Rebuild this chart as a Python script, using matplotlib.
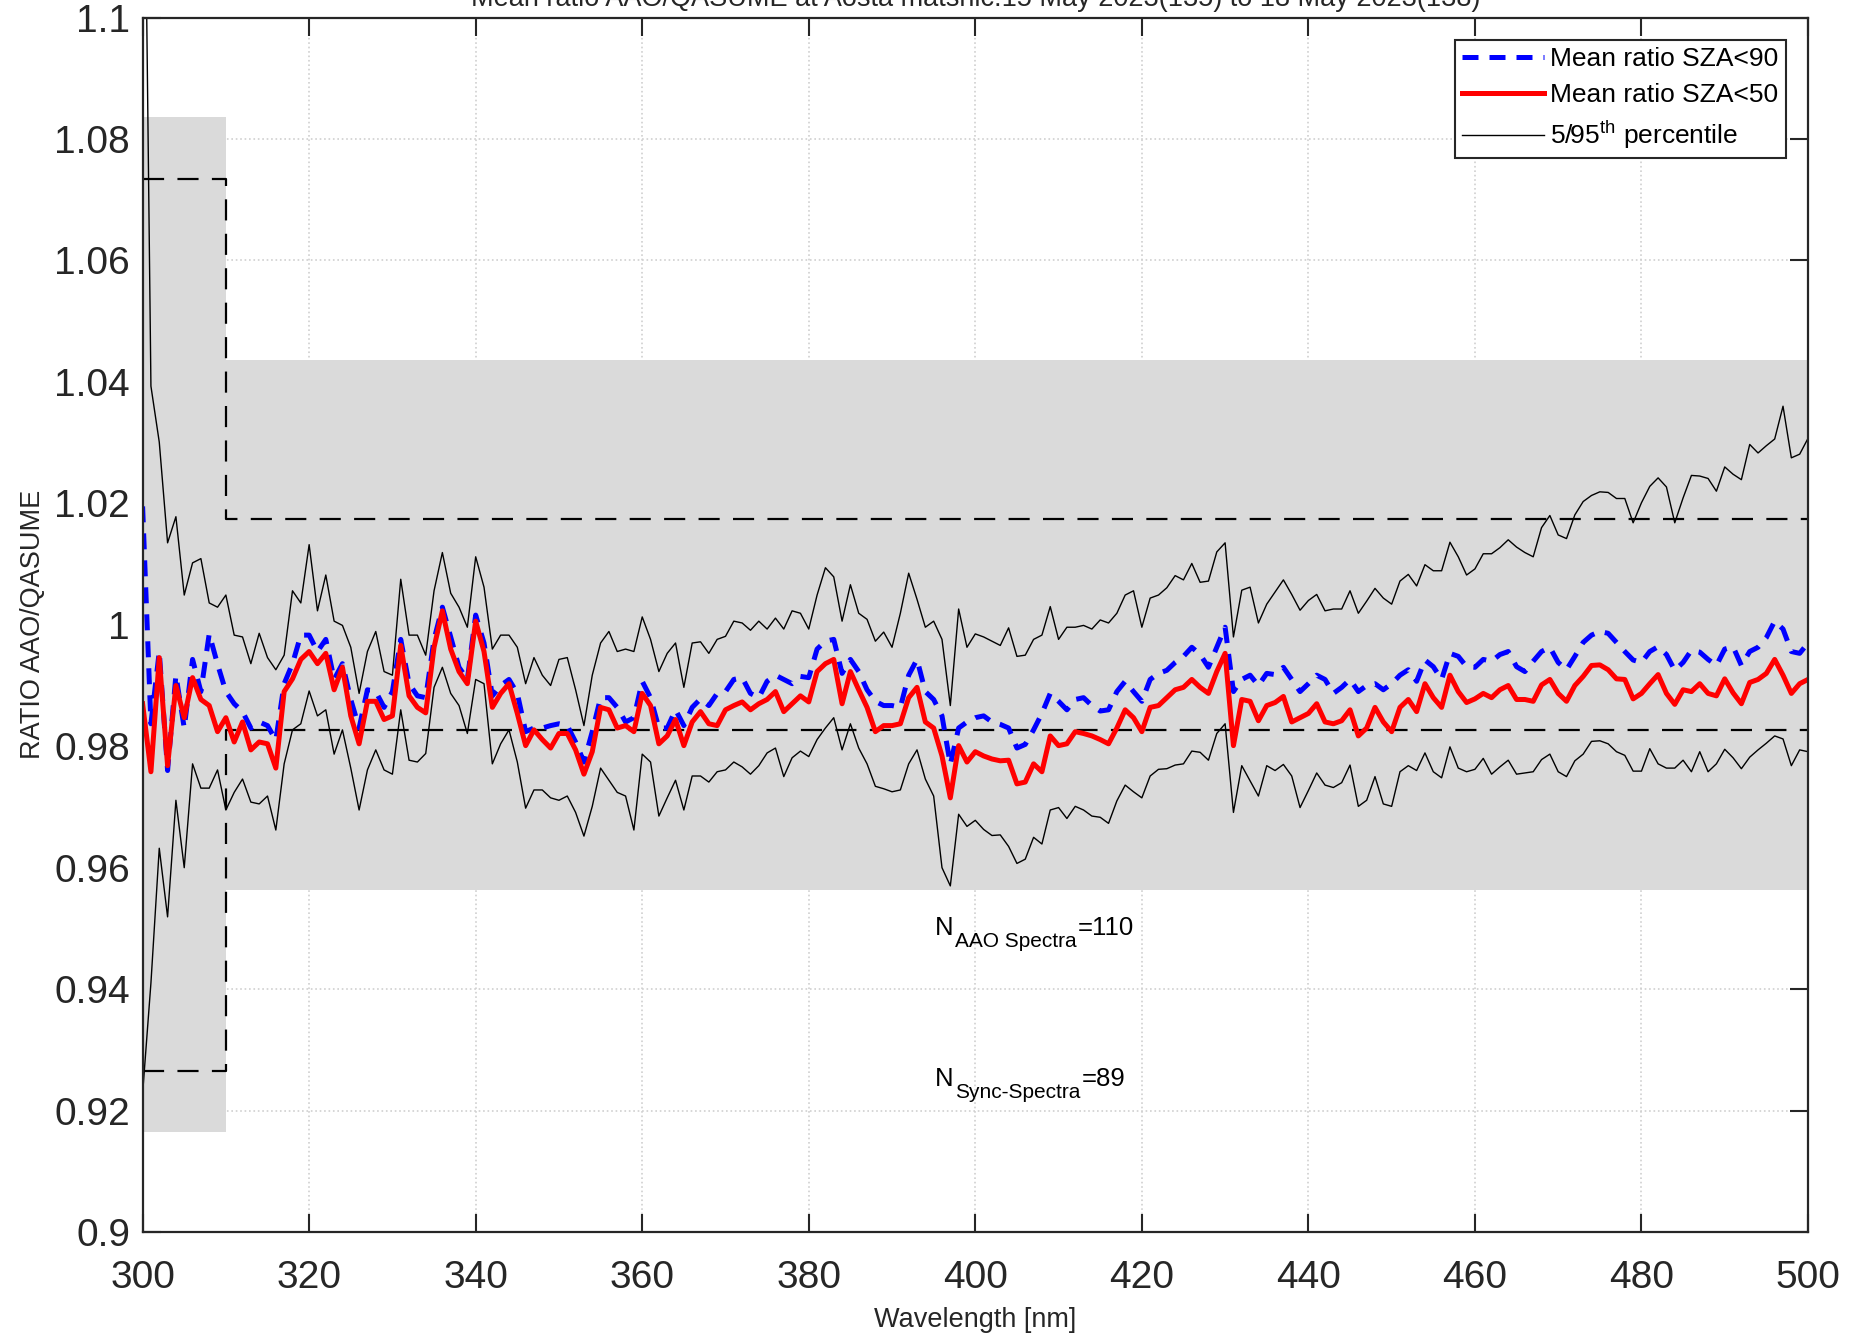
import numpy as np
import matplotlib
matplotlib.use("Agg")
import matplotlib.pyplot as plt
from matplotlib.transforms import offset_copy

plt.rcParams["font.family"] = ["Liberation Sans", "DejaVu Sans"]
plt.rcParams["mathtext.fontset"] = "custom"
plt.rcParams["mathtext.rm"] = "Liberation Sans"
plt.rcParams["mathtext.it"] = "Liberation Sans:italic"

# wavelength grid (1 nm steps, 300..500)
wavelength = np.arange(300, 501)

mean_sza50 = [
    0.987, 0.9758, 0.9946, 0.9768, 0.990, 0.9847, 0.9913, 0.9877, 0.9867, 0.9824,
    0.9847, 0.9807, 0.984, 0.9794, 0.9807, 0.9804, 0.9764, 0.989, 0.9911, 0.9943,
    0.9956, 0.9936, 0.9953, 0.9893, 0.993, 0.985, 0.9804, 0.9874, 0.9874, 0.9844,
    0.985, 0.9966, 0.9883, 0.9864, 0.9855, 0.9963, 1.0023, 0.996, 0.9923, 0.9903,
    1.0006, 0.9956, 0.9864, 0.9887, 0.9903, 0.9854, 0.9801, 0.9827, 0.9811, 0.9797,
    0.9821, 0.9821, 0.9794, 0.9754, 0.9791, 0.9864, 0.986, 0.983, 0.9834, 0.9824,
    0.9887, 0.9867, 0.9804, 0.9817, 0.9844, 0.9801, 0.984, 0.9857, 0.9837, 0.9834,
    0.986, 0.9867, 0.9873, 0.986, 0.987, 0.9877, 0.989, 0.9857, 0.987, 0.9883,
    0.9873, 0.9923, 0.9936, 0.9943, 0.987, 0.9923, 0.9893, 0.9864, 0.9824, 0.9834,
    0.9834, 0.9837, 0.988, 0.9897, 0.984, 0.983, 0.9784, 0.9715, 0.9801, 0.9774,
    0.9791, 0.9784, 0.9779, 0.9776, 0.9777, 0.9738, 0.9741, 0.9771, 0.9758, 0.9817,
    0.9801, 0.9804, 0.9824, 0.9821, 0.9817, 0.9811, 0.9804, 0.983, 0.986, 0.9847,
    0.9824, 0.9864, 0.9867, 0.988, 0.9893, 0.9897, 0.991, 0.9897, 0.9887, 0.9923,
    0.9953, 0.9801, 0.9877, 0.9874, 0.9842, 0.9867, 0.9872, 0.9882, 0.984, 0.9847,
    0.9854, 0.987, 0.984, 0.9837, 0.9842, 0.986, 0.9817, 0.983, 0.9864, 0.984,
    0.9824, 0.9864, 0.9877, 0.9857, 0.9903, 0.988, 0.9864, 0.9917, 0.989, 0.9872,
    0.9878, 0.9887, 0.988, 0.9893, 0.990, 0.9877, 0.9877, 0.9874, 0.9901, 0.991,
    0.9887, 0.9874, 0.990, 0.9915, 0.9933, 0.9934, 0.9926, 0.9911, 0.991, 0.9878,
    0.9887, 0.9903, 0.9918, 0.9887, 0.9869, 0.9893, 0.989, 0.9903, 0.9887, 0.9883,
    0.9911, 0.9888, 0.987, 0.9905, 0.991, 0.992, 0.9943, 0.9917, 0.9887, 0.9903,
    0.991,
]

mean_sza90 = [
    1.0195, 0.9837, 0.9956, 0.976, 0.9917, 0.983, 0.9943, 0.989, 0.9985, 0.9935,
    0.989, 0.987, 0.9857, 0.983, 0.984, 0.9834, 0.981, 0.9903, 0.9936, 0.9983,
    0.9983, 0.9956, 0.9976, 0.991, 0.9936, 0.9877, 0.983, 0.9893, 0.989, 0.9864,
    0.989, 0.9976, 0.9903, 0.9883, 0.988, 0.9976, 1.0029, 0.998, 0.993, 0.991,
    1.0016, 0.997, 0.9883, 0.990, 0.991, 0.9887, 0.9824, 0.983, 0.983, 0.9834,
    0.9837, 0.9834, 0.9807, 0.9774, 0.9824, 0.988, 0.988, 0.9864, 0.984, 0.9847,
    0.9907, 0.988, 0.983, 0.983, 0.986, 0.9834, 0.9864, 0.9878, 0.9867, 0.9887,
    0.989, 0.991, 0.9913, 0.9887, 0.988, 0.9907, 0.9917, 0.991, 0.9903, 0.9915,
    0.9913, 0.996, 0.9973, 0.9976, 0.992, 0.9943, 0.9923, 0.9893, 0.9874, 0.9867,
    0.9867, 0.9864, 0.9917, 0.9943, 0.989, 0.9877, 0.985, 0.977, 0.983, 0.984,
    0.9847, 0.985, 0.984, 0.9836, 0.983, 0.9797, 0.9803, 0.9827, 0.9854, 0.9887,
    0.9874, 0.986, 0.9877, 0.988, 0.9867, 0.9858, 0.986, 0.989, 0.9907, 0.989,
    0.9874, 0.991, 0.992, 0.9925, 0.9938, 0.9948, 0.9963, 0.9951, 0.993, 0.9963,
    0.9996, 0.989, 0.991, 0.9917, 0.990, 0.992, 0.9918, 0.993, 0.991, 0.989,
    0.9903, 0.9917, 0.991, 0.9887, 0.9897, 0.991, 0.989, 0.990, 0.9903, 0.9893,
    0.9903, 0.9917, 0.9926, 0.9907, 0.9942, 0.9931, 0.991, 0.9953, 0.9948, 0.9931,
    0.993, 0.9943, 0.994, 0.9951, 0.9956, 0.9931, 0.9923, 0.994, 0.9956, 0.9963,
    0.9938, 0.9926, 0.9948, 0.9971, 0.9983, 0.9989, 0.9986, 0.9971, 0.9956, 0.9942,
    0.9938, 0.9956, 0.9964, 0.9951, 0.9925, 0.9938, 0.9958, 0.9955, 0.9943, 0.9933,
    0.996, 0.9964, 0.9933, 0.9956, 0.9963, 0.9979, 1.0006, 0.9993, 0.9956, 0.9953,
    0.997,
]

p95 = [
    1.16, 1.0393, 1.0301, 1.0135, 1.0178, 1.0049, 1.0102, 1.0109, 1.0036, 1.0029,
    1.0049, 0.9983, 0.998, 0.9936, 0.9986, 0.9946, 0.9926, 0.995, 1.0056, 1.0036,
    1.0132, 1.0023, 1.0082, 1.0006, 0.9999, 0.9963, 0.9887, 0.9956, 0.9989, 0.9923,
    0.9917, 1.0075, 0.9983, 0.9983, 0.995, 1.0056, 1.0119, 1.0052, 1.0029, 0.9996,
    1.0112, 1.0062, 0.996, 0.9983, 0.9983, 0.9963, 0.9903, 0.9946, 0.9917, 0.990,
    0.9943, 0.9946, 0.9893, 0.9834, 0.9917, 0.997, 0.9989, 0.9956, 0.996, 0.9956,
    1.0013, 0.9976, 0.9923, 0.9953, 0.997, 0.9897, 0.997, 0.9972, 0.9953, 0.9976,
    0.9981, 1.0006, 1.0003, 0.9991, 1.0006, 0.9993, 1.0011, 0.9993, 1.0023, 1.0019,
    0.9993, 1.0049, 1.0094, 1.0079, 1.0006, 1.0066, 1.0019, 1.0009, 0.9973, 0.9988,
    0.9963, 1.0019, 1.0085, 1.0042, 0.9996, 1.0006, 0.9976, 0.9867, 1.0026, 0.9963,
    0.9985, 0.998, 0.9973, 0.9966, 0.9995, 0.9948, 0.995, 0.9976, 0.9983, 1.003,
    0.9976, 0.9996, 0.9996, 0.9999, 0.9993, 1.0008, 1.0003, 1.0019, 1.0049, 1.0056,
    0.9996, 1.0044, 1.0049, 1.0061, 1.0081, 1.0074, 1.0101, 1.007, 1.0072, 1.012,
    1.0135, 0.998, 1.0057, 1.0062, 1.0003, 1.0034, 1.0054, 1.0074, 1.005, 1.0024,
    1.004, 1.005, 1.0023, 1.0026, 1.0026, 1.0056, 1.0019, 1.0039, 1.006, 1.0044,
    1.0034, 1.0072, 1.0083, 1.0064, 1.0099, 1.0089, 1.0089, 1.0136, 1.0112, 1.0082,
    1.0092, 1.0117, 1.0117, 1.0127, 1.014, 1.0128, 1.0119, 1.0112, 1.016, 1.018,
    1.0148, 1.0142, 1.0181, 1.0203, 1.0213, 1.0219, 1.0218, 1.0208, 1.0208, 1.0168,
    1.0201, 1.0228, 1.0242, 1.0227, 1.0168, 1.0209, 1.0246, 1.0245, 1.0241, 1.022,
    1.026, 1.0248, 1.0239, 1.0297, 1.0283, 1.0295, 1.0306, 1.036, 1.0275, 1.0281,
    1.0307,
]

p05 = [
    0.9228, 0.941, 0.9632, 0.9519, 0.9711, 0.960, 0.9771, 0.9731, 0.9731, 0.9761,
    0.9695, 0.9724, 0.9746, 0.9708, 0.9705, 0.9718, 0.9662, 0.9771, 0.9827, 0.9837,
    0.9891, 0.985, 0.986, 0.9787, 0.9827, 0.9764, 0.9695, 0.9761, 0.9794, 0.9761,
    0.9754, 0.986, 0.9777, 0.9774, 0.9788, 0.9897, 0.993, 0.9887, 0.9867, 0.9821,
    0.991, 0.9903, 0.9771, 0.9804, 0.9827, 0.9774, 0.9698, 0.9728, 0.9728, 0.9715,
    0.9711, 0.9718, 0.9691, 0.9652, 0.9701, 0.9764, 0.9744, 0.9724, 0.9718, 0.9662,
    0.9787, 0.9774, 0.9685, 0.9715, 0.9744, 0.9695, 0.9751, 0.9751, 0.9741, 0.9758,
    0.9761, 0.9774, 0.9766, 0.9754, 0.9768, 0.9789, 0.9797, 0.975, 0.9781, 0.9792,
    0.9783, 0.9811, 0.983, 0.9847, 0.9794, 0.9837, 0.9797, 0.9771, 0.9734, 0.973,
    0.9725, 0.9728, 0.9771, 0.9794, 0.9746, 0.9718, 0.960, 0.957, 0.9688, 0.9668,
    0.9678, 0.9663, 0.9653, 0.9654, 0.9635, 0.9607, 0.9614, 0.965, 0.9639, 0.9695,
    0.9699, 0.9681, 0.9701, 0.9695, 0.9685, 0.9683, 0.9673, 0.971, 0.9736, 0.9725,
    0.9715, 0.9751, 0.9762, 0.9763, 0.9769, 0.9771, 0.9792, 0.979, 0.9777, 0.9821,
    0.9837, 0.9691, 0.9768, 0.9743, 0.9718, 0.9768, 0.976, 0.977, 0.9751, 0.9699,
    0.9727, 0.9756, 0.9736, 0.9732, 0.974, 0.9769, 0.9701, 0.9711, 0.975, 0.9705,
    0.9701, 0.9758, 0.9768, 0.976, 0.9789, 0.9758, 0.9748, 0.9799, 0.9764, 0.9758,
    0.9762, 0.978, 0.9754, 0.9766, 0.9777, 0.9754, 0.9756, 0.9758, 0.9778, 0.9787,
    0.9758, 0.975, 0.9776, 0.9787, 0.9808, 0.9809, 0.9804, 0.9791, 0.9785, 0.9759,
    0.9759, 0.9796, 0.9771, 0.9764, 0.9764, 0.9777, 0.9758, 0.9791, 0.9758, 0.9771,
    0.9795, 0.9781, 0.9763, 0.9782, 0.9794, 0.9805, 0.9817, 0.9812, 0.9768, 0.9794,
    0.9791,
]

# acceptance bands around 1 (300-310 nm and 310-500 nm)
band_edges = [300, 310, 500]
band_outer = [0.0836, 0.0436]   # half width of grey bands
band_inner = [0.0735, 0.0174]   # half width of dashed limits

n_aao = 110
n_sync = 89
title = "Mean ratio AAO/QASUME at Aosta matshic:15 May 2023(135) to 18 May 2023(138)"

W, H = 1863, 1339
fig = plt.figure(figsize=(W / 100, H / 100), dpi=100)
ax = fig.add_axes([142.6 / W, 1 - 1232 / H, (1808 - 142.6) / W, (1232 - 17.6) / H])

grey = "#dadada"
for k in range(2):
    ax.fill_between([band_edges[k], band_edges[k + 1]],
                    1 - band_outer[k], 1 + band_outer[k],
                    color=grey, lw=0, zorder=1)

# dashed limits (step shape)
xs = [band_edges[0], band_edges[1], band_edges[1], band_edges[2]]
for sgn in (1, -1):
    ys = [1 + sgn * band_inner[0], 1 + sgn * band_inner[0],
          1 + sgn * band_inner[1], 1 + sgn * band_inner[1]]
    ax.plot(xs, ys, color="black", lw=1.6, dashes=(9.5, 6), zorder=2)

ax.plot(wavelength, p95, color="black", lw=1.0, zorder=3,
        label=r"5/95$^{\mathrm{th}}$ percentile")
ax.plot(wavelength, p05, color="black", lw=1.0, zorder=3)
ax.plot(wavelength, mean_sza90, color="blue", lw=3.6, dashes=(3.2, 2.2),
        zorder=4, label="Mean ratio SZA<90")
ax.plot(wavelength, mean_sza50, color="red", lw=3.6, zorder=5,
        label="Mean ratio SZA<50")

ax.set_xlim(300, 500)
ax.set_ylim(0.9, 1.1)
ax.set_xticks(np.arange(300, 501, 20))
ax.set_yticks(np.arange(0.9, 1.1001, 0.02))
ax.set_yticklabels(["0.9", "0.92", "0.94", "0.96", "0.98", "1",
                    "1.02", "1.04", "1.06", "1.08", "1.1"])
ax.tick_params(direction="in", length=13, width=1.5, top=True, right=True,
               labelsize=28, colors="#262626")
ax.tick_params(axis="y", pad=9)
ax.tick_params(axis="x", pad=20)
for s in ax.spines.values():
    s.set_linewidth(1.6)
    s.set_color("#262626")
    s.set_zorder(7)
ax.grid(True, linestyle=":", color="#d0d0d0", lw=1.2)
ax.set_axisbelow(True)

ax.set_xlabel("Wavelength [nm]", fontsize=19.5, color="#262626")
ax.set_ylabel("RATIO AAO/QASUME", fontsize=19.5, color="#262626")
ax.xaxis.set_label_coords(0.5, -0.0725)
ax.yaxis.set_label_coords(-0.0658, 0.5)
ax.xaxis.label.set_va("center")
ax.yaxis.label.set_va("center")

h, l = ax.get_legend_handles_labels()
order = [1, 2, 0]
leg = ax.legend([h[i] for i in order], [l[i] for i in order],
                loc="upper right", bbox_to_anchor=(1 - 22 / 1665.4, 1 - 22 / 1214.4),
                borderaxespad=0, fontsize=19, fancybox=False, framealpha=1,
                edgecolor="#262626", handlelength=3.1, labelspacing=0.45,
                handletextpad=0.25, borderpad=0.28)
leg.get_frame().set_linewidth(1.5)
leg.set_zorder(8)

fig.text(ax.get_position().x0 + ax.get_position().width / 2, 1 - 6 / H, title,
         fontsize=19.5, ha="center", va="baseline", color="#262626")


def sub_label(x, y, base, sub, tail, size=18.5, subsize=15, drop=12):
    """MATLAB style N_{sub}=value, built from three text pieces."""
    fig.canvas.draw()
    t1 = ax.text(x, y, base, fontsize=size, va="baseline", ha="left", zorder=6)
    w1 = t1.get_window_extent(fig.canvas.get_renderer()).width
    t2 = ax.text(x, y, sub, fontsize=subsize, va="baseline", ha="left", zorder=6,
                 transform=offset_copy(ax.transData, fig=fig, x=w1 + 1,
                                       y=-drop, units="dots"))
    w2 = t2.get_window_extent(fig.canvas.get_renderer()).width
    ax.text(x, y, tail, fontsize=size, va="baseline", ha="left", zorder=6,
            transform=offset_copy(ax.transData, fig=fig, x=w1 + w2 + 2,
                                  y=0, units="dots"))


sub_label(395.2, 0.9489, "N", "AAO Spectra", "=%d" % n_aao)
sub_label(395.2, 0.9241, "N", "Sync-Spectra", "=%d" % n_sync)

fig.savefig("out.png", dpi=100)
